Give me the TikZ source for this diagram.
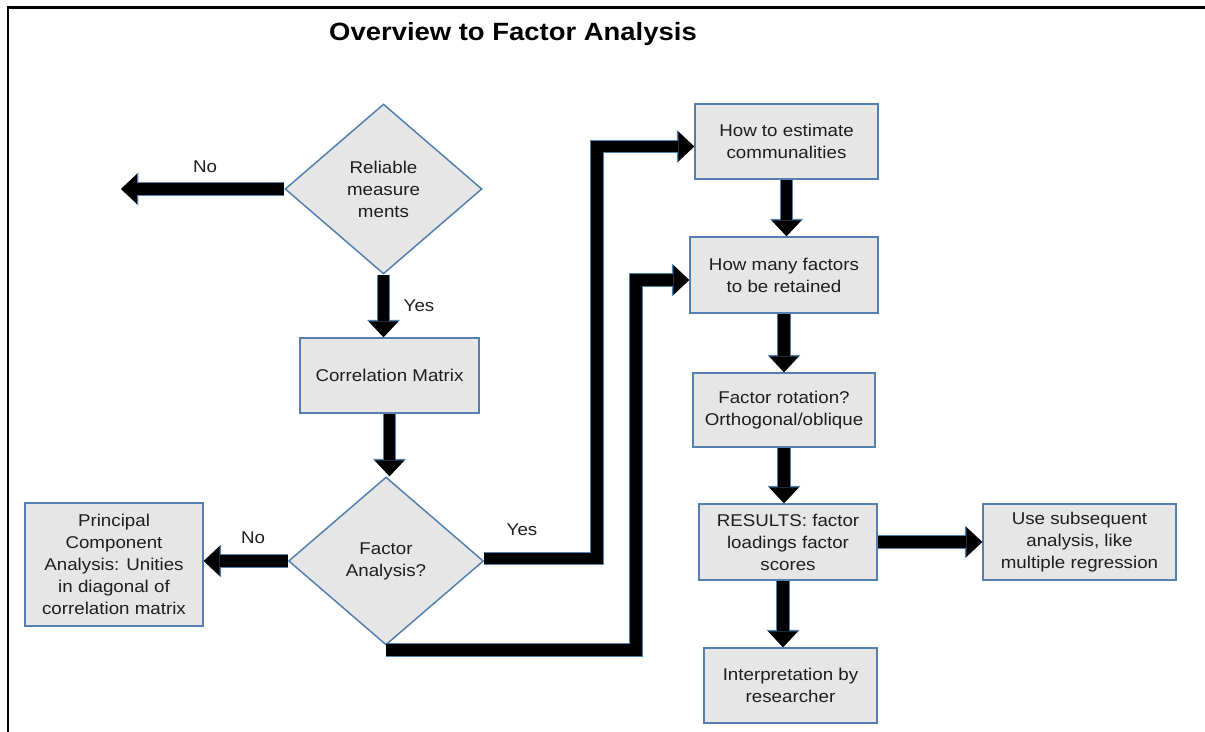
\documentclass[tikz,border=0pt]{standalone}
\usepackage{fontspec}
\setmainfont{Liberation Sans}[FakeStretch=1.1]
\usetikzlibrary{shapes.geometric,arrows.meta,calc}
\definecolor{boxgray}{RGB}{230,230,230}
\definecolor{boxblue}{RGB}{84,128,176}
\definecolor{textdark}{RGB}{30,30,30}
\tikzset{
  stepbox/.style={rectangle, fill=boxgray, draw=boxblue, line width=0.03cm,
    inner sep=0pt, align=center, text=textdark,
    font=\fontsize{9.7}{12.5}\selectfont},
  decision/.style={diamond, fill=boxgray, draw=boxblue, line width=0.03cm,
    inner sep=0pt, align=center, text=textdark,
    font=\fontsize{9.7}{12.5}\selectfont},
  edgelabel/.style={text=textdark, font=\fontsize{9.7}{12.5}\selectfont},
  blockarrow/.style={line width=0.23cm, draw=black, line join=miter,
    -{Triangle[length=0.32cm,width=0.6cm,line width=0pt]},
    preaction={draw=boxblue, line width=0.27cm, line join=miter,
      -{Triangle[length=0.35cm,width=0.66cm,line width=0pt]}}}
}
\begin{document}
\begin{tikzpicture}[x=0.02cm, y=-0.02cm]
  \useasboundingbox (0,0) rectangle (1205,732);
  % open frame: left and top edges
  \draw[line width=0.06cm, line cap=butt] (8,732) -- (8,7.5) -- (1205,7.5);

  % title
  \node[font=\bfseries\fontsize{14.2}{17}\selectfont] (title) at (513,34)
    {Overview to Factor Analysis};

  % left column
  \node[decision, minimum width=3.94cm, minimum height=3.4cm] (rel) at (383.5,189)
    {Reliable\\measure\\ments};
  \node[stepbox, minimum width=3.58cm, minimum height=1.5cm] (corr) at (389.5,375.5)
    {Correlation Matrix};
  \node[decision, minimum width=3.9cm, minimum height=3.36cm] (fa) at (386,561)
    {Factor\\Analysis?};
  \node[stepbox, minimum width=3.56cm, minimum height=2.46cm] (pca) at (114,564.5)
    {Principal\\Component\\Analysis: Unities\\in diagonal of\\correlation matrix};

  % right column
  \node[stepbox, minimum width=3.66cm, minimum height=1.5cm] (est) at (786.5,141.5)
    {How to estimate\\communalities};
  \node[stepbox, minimum width=3.76cm, minimum height=1.52cm] (many) at (784,275)
    {How many factors\\to be retained};
  \node[stepbox, minimum width=3.64cm, minimum height=1.48cm] (rot) at (784,410)
    {Factor rotation?\\Orthogonal/oblique};
  \node[stepbox, minimum width=3.56cm, minimum height=1.52cm] (res) at (788,542)
    {RESULTS: factor\\loadings factor\\scores};
  \node[stepbox, minimum width=3.86cm, minimum height=1.52cm] (use) at (1079.5,542)
    {Use subsequent\\analysis, like\\multiple regression};
  \node[stepbox, minimum width=3.46cm, minimum height=1.5cm] (interp) at (790.5,685.5)
    {Interpretation by\\researcher};

  % connectors
  \coordinate (noend) at (121,189);
  \draw[blockarrow] (rel.west) -- (noend);
  \draw[blockarrow] (rel.south) -- (rel.south |- corr.north);
  \draw[blockarrow] (corr.south) -- (corr.south |- fa.north);
  \draw[blockarrow] (fa.west) -- (fa.west -| pca.east);
  \draw[blockarrow] ([yshift=0.05cm]fa.east) -- ++(113,0) |- ([yshift=-0.1cm]est.west);
  \draw[blockarrow] ([yshift=-0.09cm]fa.south) -- ++(250,0) |- ([yshift=-0.1cm]many.west);
  \draw[blockarrow] (est.south) -- (est.south |- many.north);
  \draw[blockarrow] (many.south) -- (many.south |- rot.north);
  \draw[blockarrow] (rot.south) -- (rot.south |- res.north);
  \draw[blockarrow] (res.east) -- (use.west);
  \draw[blockarrow] ([xshift=-0.1cm]res.south) -- ([xshift=-0.1cm]res.south |- interp.north);

  % branch labels
  \node[edgelabel] (lno1) at (205,167) {No};
  \node[edgelabel] (lyes1) at (419,306) {Yes};
  \node[edgelabel] (lno2) at (253,538) {No};
  \node[edgelabel] (lyes2) at (522,530) {Yes};
\end{tikzpicture}
\end{document}
